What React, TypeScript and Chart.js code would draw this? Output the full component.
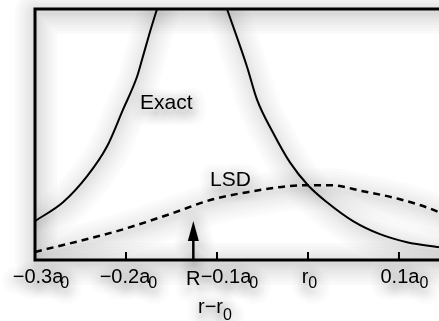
import { useEffect, useRef } from "react";
import { Chart, registerables } from "chart.js";

Chart.register(...registerables);

// Horizontal range of r − r0 (in units of a0) and vertical range (arbitrary units)
const xMin = -0.3;
const xMax = 0.144;
const yMin = 0;
const yMax = 1;

// Exact result: two branches that diverge on either side of R
const exactLeftX = [-0.3, -0.2692, -0.2429, -0.2209, -0.2033, -0.1879, -0.1824, -0.1736, -0.1659];
const exactLeftY = [0.155, 0.23, 0.333, 0.452, 0.599, 0.73, 0.798, 0.909, 1.0];
const exactRightX = [-0.089, -0.067, -0.056, -0.0385, -0.0198, 0.0, 0.0209, 0.0495, 0.0791, 0.1088, 0.1418, 0.144];
const exactRightY = [1.0, 0.77, 0.639, 0.508, 0.389, 0.298, 0.23, 0.155, 0.103, 0.071, 0.052, 0.051];

// LSD approximation
const lsdX = [-0.3, -0.2099, -0.1516, -0.1044, -0.0604, -0.0231, 0.0, 0.0242, 0.0604, 0.1011, 0.1418, 0.144];
const lsdY = [0.032, 0.115, 0.183, 0.242, 0.274, 0.294, 0.298, 0.298, 0.274, 0.242, 0.194, 0.19];

// Axis ticks: value, main text and subscript
const tickValues = [-0.3, -0.2, -0.1, 0, 0.1];
const tickMain = ["−0.3a", "−0.2a", "−0.1a", "r", "0.1a"];
const tickSub = ["0", "0", "0", "0", "0"];

// Position of the marker R on the axis
const rValue = -0.126;

const FONT = '"Liberation Sans", Arial, Helvetica, sans-serif';

// soft grey halo: stacked wide translucent strokes, offset slightly down
const HALO_WIDTHS = [42, 36, 30, 25, 20, 15, 11, 7, 4];
const HALO_ALPHA = 0.015;
const HALO_DX = 1;
const HALO_DY = 4;

function toPoints(xs: number[], ys: number[]) {
  return xs.map((x, i) => ({ x, y: ys[i] }));
}

function halo(ctx: CanvasRenderingContext2D, build: () => void, scale = 1, alpha = 1) {
  ctx.save();
  ctx.translate(HALO_DX, HALO_DY);
  ctx.lineJoin = "round";
  ctx.lineCap = "round";
  ctx.setLineDash([]);
  for (const w of HALO_WIDTHS) {
    ctx.lineWidth = w * scale;
    ctx.strokeStyle = `rgba(0,0,0,${HALO_ALPHA * alpha})`;
    ctx.beginPath();
    build();
    ctx.stroke();
  }
  ctx.restore();
}

type Txt = { text: string; x: number; y: number; size: number; align: CanvasTextAlign };

function layoutTexts(chart: any, ctx: CanvasRenderingContext2D): Txt[] {
  const xs = chart.scales.x;
  const ys = chart.scales.y;
  const { bottom } = chart.chartArea;
  const out: Txt[] = [];
  const nudge = [3, -1, 9, -3, 1];
  const overlap = [3, 2, 2, 0, 0];
  tickValues.forEach((v, i) => {
    const px = xs.getPixelForValue(v) + nudge[i];
    ctx.font = `20px ${FONT}`;
    const w = ctx.measureText(tickMain[i]).width;
    out.push({ text: tickMain[i], x: px, y: bottom + 23, size: 20, align: "center" });
    out.push({ text: tickSub[i], x: px + w / 2 - overlap[i], y: bottom + 28, size: 16, align: "left" });
  });
  const rx = xs.getPixelForValue(rValue);
  out.push({ text: "R", x: rx, y: bottom + 25, size: 20, align: "center" });
  ctx.font = `20px ${FONT}`;
  const tw = ctx.measureText("r−r").width;
  out.push({ text: "r−r", x: 198, y: bottom + 53, size: 20, align: "left" });
  out.push({ text: "0", x: 198 + tw, y: bottom + 60, size: 16, align: "left" });
  out.push({ text: "Exact", x: xs.getPixelForValue(-0.1846), y: ys.getPixelForValue(0.6), size: 21, align: "left" });
  out.push({ text: "LSD", x: xs.getPixelForValue(-0.1077), y: ys.getPixelForValue(0.295), size: 21, align: "left" });
  return out;
}

function framePath(chart: any, ctx: CanvasRenderingContext2D) {
  const { left, right, top, bottom } = chart.chartArea;
  ctx.moveTo(right + 40, top);
  ctx.lineTo(left, top);
  ctx.lineTo(left, bottom);
  ctx.lineTo(right + 40, bottom);
}

function arrowPath(chart: any, ctx: CanvasRenderingContext2D) {
  const rx = chart.scales.x.getPixelForValue(rValue);
  const { bottom } = chart.chartArea;
  ctx.moveTo(rx, bottom - 1);
  ctx.lineTo(rx, bottom - 22);
  ctx.moveTo(rx, bottom - 39);
  ctx.lineTo(rx - 5.5, bottom - 19);
  ctx.lineTo(rx + 5.5, bottom - 19);
  ctx.closePath();
}

const haloPlugin = {
  id: "halo",
  beforeDatasetsDraw(chart: any) {
    const { ctx, chartArea } = chart;
    const { left, right, top, bottom } = chartArea;

    // halo behind curves, kept inside the frame
    ctx.save();
    ctx.beginPath();
    ctx.rect(left, top, right - left, bottom - top);
    ctx.clip();
    chart.data.datasets.forEach((_: any, i: number) => {
      const line = chart.getDatasetMeta(i).dataset;
      if (line) halo(ctx, () => line.path(ctx));
    });
    ctx.restore();

    // halo behind frame and arrow
    halo(ctx, () => framePath(chart, ctx), 1, 1.3);
    halo(ctx, () => arrowPath(chart, ctx), 0.7);

    // halo behind labels
    ctx.save();
    ctx.translate(HALO_DX, HALO_DY);
    ctx.lineJoin = "round";
    ctx.textBaseline = "alphabetic";
    for (const t of layoutTexts(chart, ctx)) {
      ctx.font = `${t.size}px ${FONT}`;
      ctx.textAlign = t.align;
      for (const w of HALO_WIDTHS) {
        ctx.lineWidth = w * 0.6;
        ctx.strokeStyle = `rgba(0,0,0,${HALO_ALPHA * 0.8})`;
        ctx.strokeText(t.text, t.x, t.y);
      }
    }
    ctx.restore();
  },
};

const decorPlugin = {
  id: "decor",
  afterDatasetsDraw(chart: any) {
    const { ctx, chartArea } = chart;
    const xs = chart.scales.x;
    const { bottom } = chartArea;

    ctx.save();
    ctx.strokeStyle = "#000";
    ctx.fillStyle = "#000";

    // frame: top, left and bottom edges
    ctx.lineWidth = 3;
    ctx.lineCap = "butt";
    ctx.beginPath();
    framePath(chart, ctx);
    ctx.stroke();

    // tick marks
    ctx.lineWidth = 2;
    tickValues.forEach((v) => {
      if (v <= xMin) return;
      const px = xs.getPixelForValue(v);
      ctx.beginPath();
      ctx.moveTo(px, bottom);
      ctx.lineTo(px, bottom - 8);
      ctx.stroke();
    });

    // R marker: arrow pointing up from the axis
    const rx = xs.getPixelForValue(rValue);
    ctx.lineWidth = 2.5;
    ctx.beginPath();
    ctx.moveTo(rx, bottom - 1);
    ctx.lineTo(rx, bottom - 22);
    ctx.stroke();
    ctx.beginPath();
    ctx.moveTo(rx, bottom - 39);
    ctx.lineTo(rx - 5.5, bottom - 19);
    ctx.lineTo(rx + 5.5, bottom - 19);
    ctx.closePath();
    ctx.fill();

    // all labels
    ctx.textBaseline = "alphabetic";
    for (const t of layoutTexts(chart, ctx)) {
      ctx.font = `${t.size}px ${FONT}`;
      ctx.textAlign = t.align;
      ctx.fillText(t.text, t.x, t.y);
    }

    ctx.restore();
  },
};

export default function App() {
  const ref = useRef<HTMLCanvasElement | null>(null);

  useEffect(() => {
    if (!ref.current) return;
    const solid = {
      borderColor: "#000",
      borderWidth: 2,
      pointRadius: 0,
      fill: false,
      cubicInterpolationMode: "monotone" as const,
    };
    const chart = new Chart(ref.current, {
      type: "line",
      data: {
        datasets: [
          { label: "Exact", data: toPoints(exactLeftX, exactLeftY), ...solid },
          { label: "Exact ", data: toPoints(exactRightX, exactRightY), ...solid },
          {
            label: "LSD",
            data: toPoints(lsdX, lsdY),
            ...solid,
            borderWidth: 2.5,
            borderDash: [7, 5],
          },
        ],
      },
      options: {
        animation: false,
        responsive: false,
        maintainAspectRatio: false,
        devicePixelRatio: 1,
        layout: { padding: { left: 35, top: 9, right: 0, bottom: 61 } },
        scales: {
          x: { type: "linear", min: xMin, max: xMax, display: false },
          y: { type: "linear", min: yMin, max: yMax, display: false },
        },
        plugins: {
          legend: { display: false },
          tooltip: { enabled: false },
        },
      },
      plugins: [haloPlugin, decorPlugin],
    });
    return () => chart.destroy();
  }, []);

  return (
    <div
      style={{
        position: "fixed",
        left: 0,
        top: 0,
        width: 439,
        height: 321,
        overflow: "hidden",
        background: "#fff",
      }}
    >
      <canvas ref={ref} width={439} height={321} style={{ display: "block" }} />
    </div>
  );
}
